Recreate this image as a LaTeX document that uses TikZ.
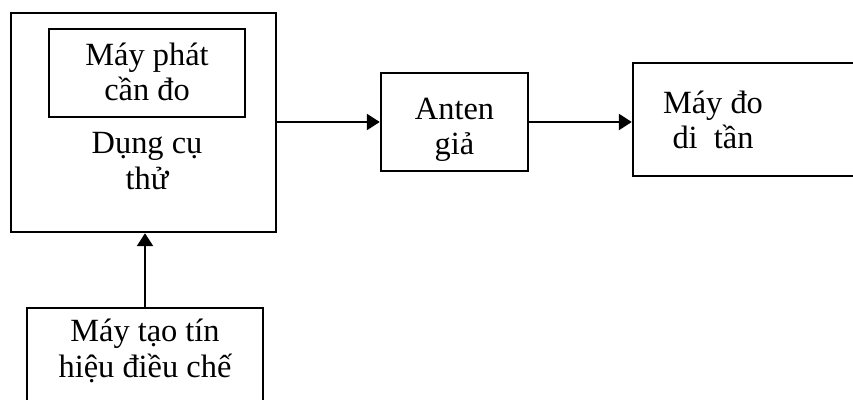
\documentclass[tikz,border=0pt]{standalone}
\usepackage{fontspec}
\setmainfont{Liberation Serif}
\usetikzlibrary{arrows.meta}
\usetikzlibrary{positioning}

\begin{document}
\begin{tikzpicture}[x=0.5pt,y=-0.5pt,
  khoi/.style={draw=black,line width=1.2pt,rectangle,inner sep=0pt},
  chu/.style={font=\fontsize{16.2}{17.6}\selectfont,align=center,inner sep=0pt},
  muiten/.style={line width=1.2pt,-{Triangle[length=6.5pt,width=8pt]}}]
\useasboundingbox (0,0) rectangle (853,400);
\clip (0,0) rectangle (853,400);
\fill[white] (0,0) rectangle (853,400);
\node[khoi,minimum width=132.5pt,minimum height=109.5pt] (dungCu) at (143.5,122.5) {};
\node[khoi,minimum width=98pt,minimum height=44pt] (mayPhat) at (147,73) {};
\node[chu] (mayPhatText) at (147,72) {Máy phát\\cần đo};
\node[chu] (dungCuText) at (147,161) {Dụng cụ\\thử};
\node[khoi,minimum width=73.5pt,minimum height=49pt] (anten) at (454.5,122) {};
\node[chu] (antenText) at (454.5,130) {Anten\\giả};
\node[khoi,minimum width=133.5pt,minimum height=56.5pt] (mayDo) at (766.5,119.5) {};
\node[chu] (mayDoText) at (713,120) {Máy đo\\di\ \ tần};
\node[khoi,minimum width=118pt,minimum height=56pt] (mayTao) at (145,364) {};
\node[chu] (mayTaoText) at (145,351) {Máy tạo tín\\hiệu điều chế};

\draw[muiten] (dungCu.east |- anten.west) -- (anten.west);
\draw[muiten] (anten.east) -- (anten.east -| mayDo.west);
\draw[muiten] (mayTao.north) -- (mayTao.north |- dungCu.south);

\end{tikzpicture}
\end{document}
